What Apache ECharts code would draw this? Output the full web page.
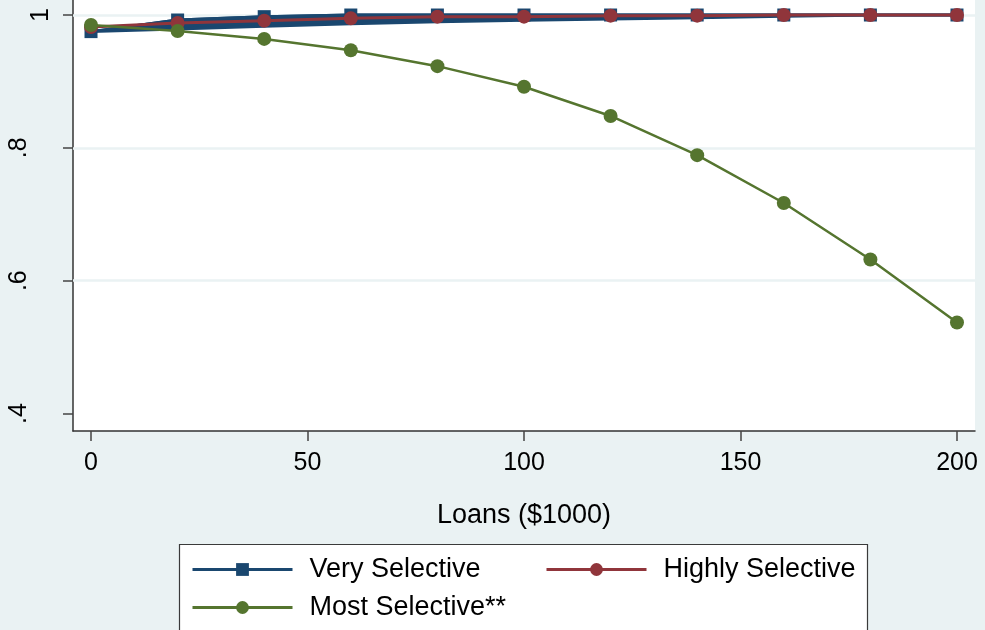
<!DOCTYPE html>
<html>
<head>
<meta charset="utf-8">
<script src="https://cdn.jsdelivr.net/npm/echarts@6/dist/echarts.min.js"></script>
<style>
html,body{margin:0;padding:0;background:#eaf2f3;}
#chart{width:985px;height:630px;}
</style>
</head>
<body>
<div id="chart"></div>
<script>
const loans = [0, 20, 40, 60, 80, 100, 120, 140, 160, 180, 200];
const verySelective = [0.975, 0.9925, 0.9975, 1.0, 1.0, 1.0, 1.0, 1.0, 1.0, 1.0, 1.0];
const verySelectiveLow = [0.975, 0.979, 0.983, 0.987, 0.990, 0.992, 0.994, 0.996, 0.998, 1.0, 1.0];
const highlySelective = [0.982, 0.988, 0.9915, 0.995, 0.9975, 0.9975, 0.999, 0.999, 1.0, 1.0, 1.0];
const mostSelective = [0.985, 0.976, 0.964, 0.947, 0.923, 0.892, 0.848, 0.789, 0.717, 0.632, 0.537];
const xTicks = [0, 50, 100, 150, 200];
const yTicks = [0.4, 0.6, 0.8, 1];
const yTickLabels = ['.4', '.6', '.8', '1'];
const yGrid = [0.6, 0.8, 1];

const BLUE = '#1a476f', RED = '#90353b', GREEN = '#55752f';
const FONT = 'Liberation Sans, Arial, sans-serif';

const pairs = (ys) => loans.map((x, i) => [x, ys[i]]);
const legendText = {fontFamily: FONT, fontSize: 27, color: '#000', padding: [0, 0, 0, 12]};

const chart = echarts.init(document.getElementById('chart'));
chart.setOption({
  backgroundColor: '#eaf2f3',
  animation: false,
  grid: {left: 73, right: 10, top: 0, bottom: 199, show: true, backgroundColor: '#ffffff', borderWidth: 0},
  xAxis: {
    type: 'value', min: -4.16, max: 204.16,
    name: 'Loans ($1000)', nameLocation: 'middle', nameGap: 71,
    nameTextStyle: {fontFamily: FONT, fontSize: 27, color: '#000'},
    axisLine: {show: true, onZero: false, lineStyle: {color: '#333', width: 1.5}},
    axisTick: {show: true, customValues: xTicks, length: 10, lineStyle: {color: '#444', width: 1.5}},
    axisLabel: {customValues: xTicks, fontFamily: FONT, fontSize: 25, color: '#000', margin: 20},
    splitLine: {show: false}
  },
  yAxis: {
    type: 'value', min: 0.3737, max: 1.0226,
    axisLine: {show: true, onZero: false, lineStyle: {color: '#333', width: 1.5}},
    axisTick: {show: true, customValues: yTicks, length: 10, lineStyle: {color: '#444', width: 1.5}},
    axisLabel: {show: false},
    splitLine: {show: false}
  },
  legend: [
    {data: ['Very Selective'], left: 191, top: 556, padding: 0, itemWidth: 100, itemHeight: 16,
     lineStyle: {width: 3}, textStyle: legendText},
    {data: ['Highly Selective'], left: 545, top: 556, padding: 0, itemWidth: 100, itemHeight: 16,
     lineStyle: {width: 3}, textStyle: legendText},
    {data: ['Most Selective**'], left: 191, top: 594, padding: 0, itemWidth: 100, itemHeight: 16,
     lineStyle: {width: 3}, textStyle: legendText}
  ],
  series: [
    {name: 'grid', type: 'line', data: [], z: 1, silent: true,
     markLine: {silent: true, z: 1, symbol: ['none', 'none'], label: {show: false},
       lineStyle: {color: '#eaf2f3', width: 2.5, type: 'solid'},
       data: yGrid.map(v => ({yAxis: v}))}},
    {name: 'vsBand', type: 'custom', z: 2, silent: true,
     data: loans.map((x, i) => [x, verySelective[i], verySelectiveLow[i]]),
     encode: {x: 0, y: [1, 2]},
     renderItem: function (params, api) {
       if (params.dataIndex !== 0) return null;
       const upper = loans.map((x, i) => api.coord([x, verySelective[i]]));
       const lower = loans.map((x, i) => api.coord([x, verySelectiveLow[i]])).reverse();
       return {
         type: 'polygon',
         shape: {points: upper.concat(lower)},
         style: {fill: BLUE, stroke: BLUE, lineWidth: 3, lineJoin: 'round'}
       };
     }},
    {name: 'Very Selective', type: 'line', data: pairs(verySelective), symbol: 'rect', symbolSize: 13,
     itemStyle: {color: BLUE}, lineStyle: {color: BLUE, width: 3}, z: 3},
    {name: 'Highly Selective', type: 'line', data: pairs(highlySelective), symbol: 'circle', symbolSize: 14,
     itemStyle: {color: RED}, lineStyle: {color: RED, width: 3}, z: 4},
    {name: 'Most Selective**', type: 'line', data: pairs(mostSelective), symbol: 'circle', symbolSize: 14,
     itemStyle: {color: GREEN}, lineStyle: {color: GREEN, width: 2.5}, z: 5}
  ]
});

// rotated y tick labels placed through the axis scale
const yLabelGraphics = yTicks.map((v, i) => {
  const py = chart.convertToPixel({yAxisIndex: 0}, v);
  const txt = yTickLabels[i];
  return {
    type: 'text', silent: true, z: 10,
    x: txt === '1' ? 41.5 : 19.5, y: py, rotation: Math.PI / 2,
    style: {text: txt, fontFamily: FONT, fontSize: 25, fill: '#000',
            align: 'center', verticalAlign: 'middle', textAlign: 'center', textVerticalAlign: 'middle'}
  };
});
chart.setOption({
  graphic: [{
    type: 'rect', z: 1, silent: true,
    shape: {x: 179.5, y: 544.5, width: 688, height: 100},
    style: {fill: '#ffffff', stroke: '#3a3a3a', lineWidth: 1.2}
  }].concat(yLabelGraphics)
});
</script>
</body>
</html>
